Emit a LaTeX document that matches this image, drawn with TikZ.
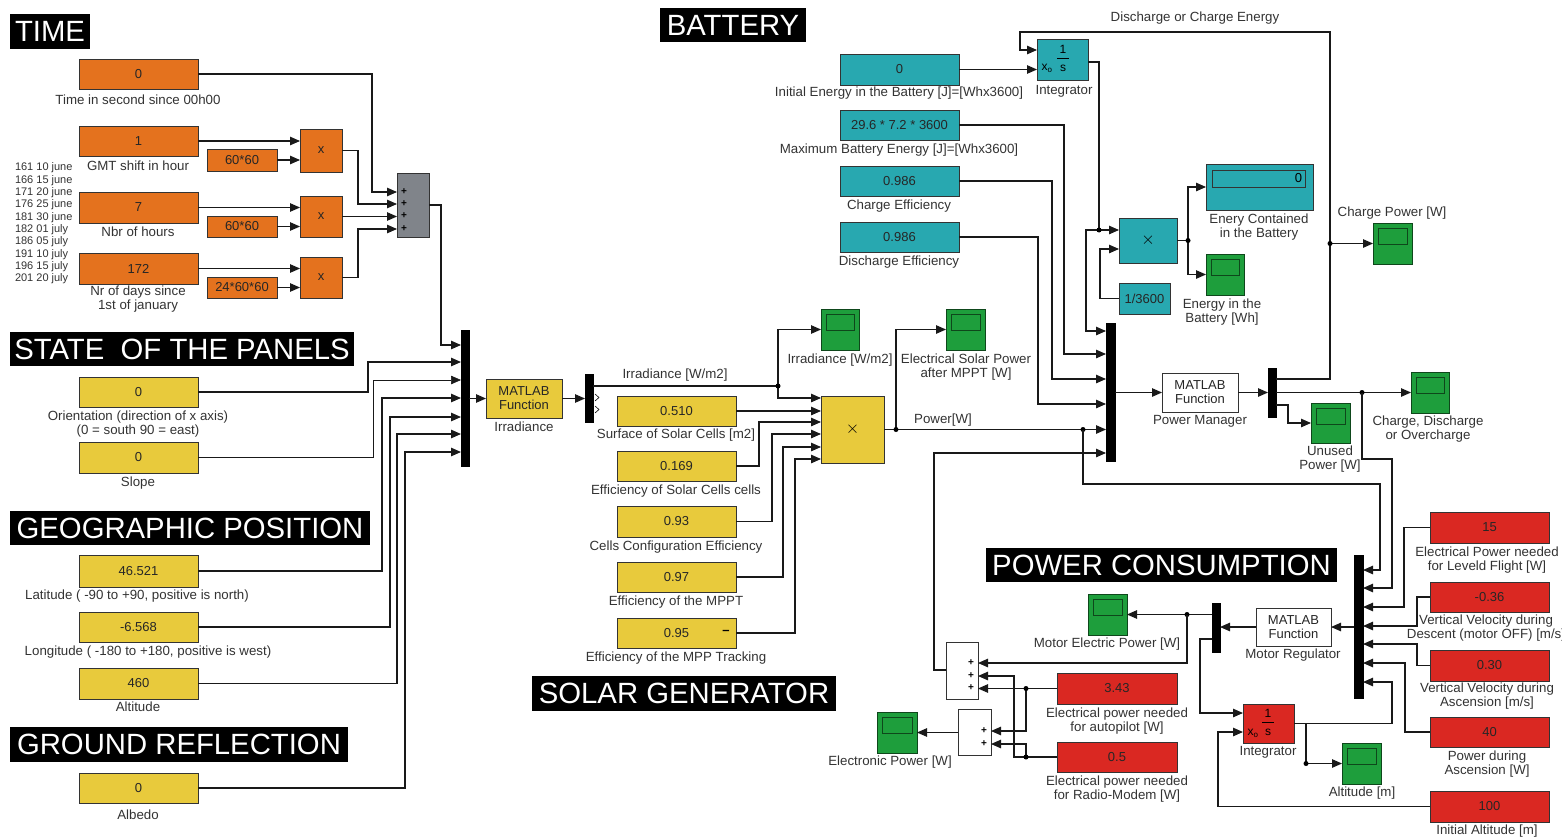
\documentclass[tikz,border=0pt]{standalone}
\usepackage{fontspec}
\setmainfont{Liberation Sans}
\usetikzlibrary{arrows.meta,calc}
\definecolor{cOr}{RGB}{228,114,30}
\definecolor{cYe}{RGB}{232,202,60}
\definecolor{cTe}{RGB}{40,168,176}
\definecolor{cRe}{RGB}{218,40,34}
\definecolor{cGr}{RGB}{30,158,60}
\definecolor{cGy}{RGB}{128,132,138}
\newcommand\blk[7]{\node[#6, minimum width={(#4-#2)*1pt}, minimum height={(#5-#3)*1pt}] (#1) at ({(#2+#4)/2},{(#3+#5)/2}) {#7};}
\newcommand\scp[5]{\blk{#1}{#2}{#3}{#4}{#5}{scb}{}\draw[draw=black!55!cGr, line width=1pt, fill=cGr] ($(#1.north west)+(5,5)$) rectangle ($(#1.north east)+(-5,21)$);}
\begin{document}
\begin{tikzpicture}[x=1pt,y=-1pt,
  every node/.style={inner sep=0pt, outer sep=0pt},
  bk/.style={draw=black!80, line width=1pt, font=\fontsize{13}{14}\selectfont, text=black!85, align=center},
  orb/.style={bk, fill=cOr},
  yeb/.style={bk, fill=cYe},
  teb/.style={bk, fill=cTe},
  reb/.style={bk, fill=cRe},
  whb/.style={bk, fill=white},
  gyb/.style={bk, fill=cGy},
  scb/.style={bk, fill=cGr, draw=black!55!cGr},
  barb/.style={fill=black, draw=black},
  hdr/.style={fill=black, text=white, font=\fontsize{29.3}{30}\selectfont},
  lbl/.style={font=\fontsize{13.3}{14}\selectfont, text=black!80, align=center},
  pls/.style={font=\fontsize{10}{10}\selectfont\bfseries, text=black},
  mul/.style={font=\fontsize{18}{18}\selectfont},
  wire/.style={draw=black!90, line width=1.1pt},
  sig/.style={wire, -{Triangle[length=10pt,width=8.5pt]}},
  jd/.style={fill=black}
]
\useasboundingbox[fill=white] (0,0) rectangle (1562,838);

% ---------------- headers
\blk{hTime}{10}{14}{90}{49}{hdr}{TIME}
\blk{hState}{10}{332}{354}{366}{hdr}{STATE\ \ OF THE PANELS}
\blk{hGeo}{10}{511}{370}{545}{hdr}{GEOGRAPHIC POSITION}
\blk{hGround}{10}{727}{348}{762}{hdr}{GROUND REFLECTION}
\blk{hBat}{660}{8}{806}{42}{hdr}{BATTERY}
\blk{hSolar}{532}{676}{836}{711}{hdr}{SOLAR GENERATOR}
\blk{hPow}{986}{548}{1337}{582}{hdr}{POWER CONSUMPTION}

% ---------------- TIME
\blk{cT0}{79}{59}{198}{89}{orb}{0}
\node[lbl] (lT0) at (138,100) {Time in second since 00h00};
\blk{cGmt}{79}{126}{198}{156}{orb}{1}
\node[lbl] (lGmt) at (138,166) {GMT shift in hour};
\blk{kA}{207}{149}{277}{171}{orb}{60*60}
\blk{pA}{300}{129}{342}{172}{orb}{x}
\blk{cH}{79}{192}{198}{223}{orb}{7}
\node[lbl] (lH) at (138,232) {Nbr of hours};
\blk{kB}{207}{216}{277}{237}{orb}{60*60}
\blk{pB}{300}{196}{342}{237}{orb}{x}
\blk{cD}{79}{253}{198}{284}{orb}{172}
\node[lbl] (lD) at (138,299.5) {Nr of days since\\1st of january};
\blk{kC}{207}{277}{277}{298}{orb}{24*60*60}
\blk{pC}{300}{257}{342}{298}{orb}{x}
\blk{sumT}{397}{173}{429}{237}{gyb}{}
\foreach \yy [count=\i] in {192,204,216,229} \node[pls] (pT\i) at (404,\yy) {+};
\foreach \t [count=\i from 0] in {161 10 june,166 15 june,171 20 june,176 25 june,181 30 june,182 01 july,186 05 july,191 10 july,196 15 july,201 20 july}
  \node[anchor=west, font=\fontsize{11}{12}\selectfont, text=black!80] (dl\i) at (15,{168+12.33*\i}) {\t};

\draw[sig] (cT0.east) -| (372,192) -- (sumT.west |- 0,192);
\draw[sig] (cGmt.east) -- (pA.west |- cGmt.east);
\draw[sig] (kA.east) -- (pA.west |- kA.east);
\draw[sig] (cH.east) -- (pB.west |- cH.east);
\draw[sig] (kB.east) -- (pB.west |- kB.east);
\draw[sig] (cD.east) -- (pC.west |- cD.east);
\draw[sig] (kC.east) -- (pC.west |- kC.east);
\draw[sig] (pA.east) -| (358,204) -- (sumT.west |- 0,204);
\draw[sig] (pB.east) -- (sumT.west |- pB.east);
\draw[sig] (pC.east) -| (358,229) -- (sumT.west |- 0,229);

% ---------------- STATE / GEO / GROUND
\blk{cOr}{79}{377}{198}{407}{yeb}{0}
\node[lbl] (lOr) at (138,424) {Orientation (direction of x axis)\\(0 = south 90 = east)};
\blk{cSl}{79}{442}{198}{473}{yeb}{0}
\node[lbl] (lSl) at (138,483) {Slope};
\blk{cLat}{79}{555}{198}{587}{yeb}{46.521}
\node[lbl] (lLat) at (137,596) {Latitude ( -90 to +90, positive is north)};
\blk{cLon}{79}{612}{198}{642}{yeb}{-6.568}
\node[lbl] (lLon) at (148,652) {Longitude ( -180 to +180, positive is west)};
\blk{cAlt}{79}{668}{198}{699}{yeb}{460}
\node[lbl] (lAlt) at (138,707) {Altitude};
\blk{cAlb}{79}{773}{198}{803}{yeb}{0}
\node[lbl] (lAlb) at (138,815) {Albedo};

\blk{muxA}{461}{330}{469}{466}{barb}{}
\draw[sig] (sumT.east) -| (441,345) -- (muxA.west |- 0,345);
\draw[sig] (cOr.east) -| (368,362) -- (muxA.west |- 0,362);
\draw[sig, line width=0.6pt] (cSl.east) -| (373,380) -- (muxA.west |- 0,380);
\draw[sig] (cLat.east) -| (382,398) -- (muxA.west |- 0,398);
\draw[sig] (cLon.east) -| (390,417) -- (muxA.west |- 0,417);
\draw[sig] (cAlt.east) -| (397,434) -- (muxA.west |- 0,434);
\draw[sig] (cAlb.east) -| (405,452) -- (muxA.west |- 0,452);

% ---------------- SOLAR GENERATOR
\blk{fIrr}{486}{379}{562}{418}{yeb}{MATLAB\\Function}
\node[lbl] (lfIrr) at (524,427) {Irradiance};
\draw[sig] (muxA.east |- fIrr.west) -- (fIrr.west);
\blk{dmxA}{585}{374}{593}{422}{barb}{}
\draw[sig] (fIrr.east) -- (dmxA.west |- fIrr.east);
\draw[line width=0.6pt] (595,394) -- (599,397.5) -- (595,401);
\draw[line width=0.6pt] (595,406) -- (599,409.5) -- (595,413);
\coordinate (jA) at (778,386);
\scp{sIrr}{821}{309}{859}{350}
\node[lbl] (lsIrr) at (840,360) {Irradiance [W/m2]};
\node[lbl] (lIrrW) at (675,375) {Irradiance [W/m2]};
\blk{prod}{821}{396}{884}{463}{yeb}{}
\node[mul] (xProd) at (prod.center) {$\times$};
\draw[wire] (dmxA.east |- jA) -- (jA);
\draw[sig] (jA) |- (sIrr.west);
\draw[sig] (jA) |- (prod.west |- 0,398);
\fill[jd] (jA) circle (2.5);

\blk{cSur}{617}{396}{736}{426}{yeb}{0.510}
\node[lbl] (lSur) at (676,435) {Surface of Solar Cells [m2]};
\blk{cEff}{617}{451}{736}{481}{yeb}{0.169}
\node[lbl] (lEff) at (676,491) {Efficiency of Solar Cells cells};
\blk{cCfg}{617}{506}{736}{537}{yeb}{0.93}
\node[lbl] (lCfg) at (676,547) {Cells Configuration Efficiency};
\blk{cMppt}{617}{562}{736}{592}{yeb}{0.97}
\node[lbl] (lMppt) at (676,602) {Efficiency of the MPPT};
\blk{cTrk}{617}{618}{736}{648}{yeb}{0.95}
\node[font=\fontsize{13}{14}\selectfont\bfseries] (mTrk) at (726,632) {--};
\node[lbl] (lTrk) at (676,658) {Efficiency of the MPP Tracking};
\draw[sig] (cSur.east) -- (prod.west |- cSur.east);
\draw[sig] (cEff.east) -| (759,422) -- (prod.west |- 0,422);
\draw[sig] (cCfg.east) -| (772,434) -- (prod.west |- 0,434);
\draw[sig] (cMppt.east) -| (783,447) -- (prod.west |- 0,447);
\draw[sig] (cTrk.east) -| (795,459) -- (prod.west |- 0,459);

\scp{sSol}{946}{309}{985}{350}
\node[lbl] (lsSol) at (966,367) {Electrical Solar Power\\after MPPT [W]};
\node[lbl] (lPow) at (943,420) {Power[W]};
\coordinate (jB) at (896,429.5);
\coordinate (jC) at (1083,429.5);

% ---------------- BATTERY
\blk{cE0}{840}{54}{959}{85}{teb}{0}
\node[lbl] (lE0) at (899,93) {Initial Energy in the Battery [J]=[Whx3600]};
\blk{cEmax}{840}{110}{959}{140}{teb}{29.6 * 7.2 * 3600}
\node[lbl] (lEmax) at (899,150) {Maximum Battery Energy [J]=[Whx3600]};
\blk{cCeff}{840}{166}{959}{196}{teb}{0.986}
\node[lbl] (lCeff) at (899,206) {Charge Efficiency};
\blk{cDeff}{840}{222}{959}{252}{teb}{0.986}
\node[lbl] (lDeff) at (899,262) {Discharge Efficiency};
\blk{intA}{1037}{39}{1088}{80}{teb}{}
\node[font=\fontsize{12}{12}\selectfont] (iA1) at (1063,49) {1};
\node[font=\fontsize{12}{12}\selectfont] (iAs) at (1063,68) {s};
\draw[line width=0.8pt] (1057,58) -- (1069,58);
\node[font=\fontsize{12}{12}\selectfont] (iAx) at (1047,68) {x\textsubscript{o}};
\node[lbl] (lIntA) at (1064,91) {Integrator};
\node[lbl] (lDce) at (1195,18) {Discharge or Charge Energy};
\blk{bprod}{1119}{218}{1177}{263}{teb}{}
\node[mul] (xBprod) at (bprod.center) {$\times$};
\blk{cInv}{1119}{283}{1170}{314}{teb}{1/3600}
\blk{disp}{1206}{164}{1313}{210}{teb}{}
\draw[draw=black!80, line width=1pt] (1212,170) rectangle (1305,187);
\node[font=\fontsize{13}{14}\selectfont, anchor=east] (dispV) at (1302,178.5) {0};
\node[lbl] (lDisp) at (1259,227) {Enery Contained\\in the Battery};
\scp{sEn}{1206}{254}{1244}{295}
\node[lbl] (lsEn) at (1222,312) {Energy in the\\Battery [Wh]};
\scp{sCh}{1373}{223}{1412}{264}
\node[lbl] (lsCh) at (1392,213) {Charge Power [W]};

\blk{muxB}{1106}{323}{1115}{461}{barb}{}
\blk{pm}{1162}{373}{1238}{412}{whb}{MATLAB\\Function}
\node[lbl] (lPm) at (1200,421) {Power Manager};
\blk{dmxB}{1268}{368}{1276}{417}{barb}{}
\scp{sUn}{1311}{403}{1350}{443}
\node[lbl] (lsUn) at (1330,459.5) {Unused\\Power [W]};
\scp{sCD}{1411}{372}{1449}{413}
\node[lbl] (lsCD) at (1428,429) {Charge, Discharge\\or Overcharge};

\draw[wire] (prod.east) -- (jB);
\draw[sig] (jB) |- (sSol.west);
\draw[sig] (jB) -- (muxB.west |- jB);
\fill[jd] (jB) circle (2.5);
\fill[jd] (jC) circle (2.5);

\draw[sig] (cE0.east) -- (intA.west |- cE0.east);
\coordinate (jD) at (1099,230);
\draw[wire] (intA.east |- 0,62) -| (jD);
\draw[sig] (jD) -- (bprod.west |- jD);
\draw[sig] (jD) -- (1086,230) -- (1086,331) -- (muxB.west |- 0,331);
\fill[jd] (jD) circle (2.5);
\draw[sig] (cInv.west) -| (1100,249) -- (bprod.west |- 0,249);
\coordinate (jE) at (1188,240.5);
\draw[wire] (bprod.east) -- (jE);
\draw[sig] (jE) |- (disp.west);
\draw[sig] (jE) |- (sEn.west);
\fill[jd] (jE) circle (2.5);
\draw[sig] (cEmax.east) -| (1064,354) -- (muxB.west |- 0,354);
\draw[sig] (cCeff.east) -| (1052,379) -- (muxB.west |- 0,379);
\draw[sig] (cDeff.east) -| (1038,404) -- (muxB.west |- 0,404);
\draw[sig] (muxB.east |- pm.west) -- (pm.west);
\draw[sig] (pm.east) -- (dmxB.west |- pm.east);
\draw[sig] (dmxB.east |- 0,379) -- (1330,379) -- (1330,32) -- (1020,32) -- (1020,50) -- (intA.west |- 0,50);
\coordinate (jF) at (1330,243.5);
\draw[sig] (jF) -- (sCh.west);
\fill[jd] (jF) circle (2.5);
\coordinate (jG) at (1362,392.5);
\draw[sig] (dmxB.east |- jG) -- (sCD.west |- jG);
\fill[jd] (jG) circle (2.5);
\draw[sig] (dmxB.east |- 0,405) -| (1288,423) -- (sUn.west |- 0,423);

% ---------------- POWER CONSUMPTION
\blk{muxC}{1354}{555}{1363}{698}{barb}{}
\blk{c15}{1430}{512}{1549}{543}{reb}{15}
\node[lbl] (lc15) at (1487,560) {Electrical Power needed\\for Leveld Flight [W]};
\blk{c036}{1430}{582}{1549}{612}{reb}{-0.36}
\node[lbl] (lc036) at (1486,628) {Vertical Velocity during\\Descent (motor OFF) [m/s]};
\blk{c030}{1430}{650}{1549}{681}{reb}{0.30}
\node[lbl] (lc030) at (1487,696) {Vertical Velocity during\\Ascension [m/s]};
\blk{c40}{1430}{717}{1549}{747}{reb}{40}
\node[lbl] (lc40) at (1487,764.5) {Power during\\Ascension [W]};
\blk{c100}{1430}{791}{1549}{822}{reb}{100}
\node[lbl] (lc100) at (1487,831) {Initial Altitude [m]};
\blk{mreg}{1256}{608}{1331}{646}{whb}{MATLAB\\Function}
\node[lbl] (lMreg) at (1293,655) {Motor Regulator};
\blk{dmxC}{1212}{603}{1220}{652}{barb}{}
\blk{intB}{1243}{704}{1294}{743}{reb}{}
\node[font=\fontsize{12}{12}\selectfont] (iB1) at (1268,713) {1};
\node[font=\fontsize{12}{12}\selectfont] (iBs) at (1268,732) {s};
\draw[line width=0.8pt] (1262,722) -- (1274,722);
\node[font=\fontsize{12}{12}\selectfont] (iBx) at (1253,733) {x\textsubscript{o}};
\node[lbl] (lIntB) at (1268,752) {Integrator};
\scp{sAlt}{1342}{743}{1381}{784}
\node[lbl] (lsAlt) at (1362,793) {Altitude [m]};
\scp{sMot}{1088}{594}{1127}{635}
\node[lbl] (lsMot) at (1107,644) {Motor Electric Power [W]};
\blk{sumA}{946}{642}{978}{699}{whb}{}
\foreach \yy [count=\i] in {663,676,688} \node[pls] (pA\i) at (971,\yy) {+};
\blk{sumB}{958}{709}{991}{755}{whb}{}
\foreach \yy [count=\i] in {731,744} \node[pls] (pB\i) at (984,\yy) {+};
\blk{c343}{1057}{673}{1177}{704}{reb}{3.43}
\node[lbl] (lc343) at (1117,721) {Electrical power needed\\for autopilot [W]};
\blk{c05}{1057}{742}{1177}{772}{reb}{0.5}
\node[lbl] (lc05) at (1117,789.5) {Electrical power needed\\for Radio-Modem [W]};
\scp{sEl}{877}{712}{917}{753}
\node[lbl] (lsEl) at (890,762) {Electronic Power [W]};

\draw[sig] (jC) |- (1380,484) -- (1380,570) -- (muxC.east |- 0,570);
\draw[sig] (jG) -- (1362,459) -- (1392,459) -- (1392,588) -- (muxC.east |- 0,588);
\draw[sig] (c15.west) -| (1404,607) -- (muxC.east |- 0,607);
\draw[sig] (c036.west) -| (1417,626) -- (muxC.east |- 0,626);
\draw[sig] (c030.west) -| (1417,644) -- (muxC.east |- 0,644);
\draw[sig] (c40.west) -| (1405,663) -- (muxC.east |- 0,663);
\draw[sig] (intB.east) -| (1392,682) -- (muxC.east |- 0,682);
\coordinate (jH) at (1306,723.5);
\coordinate (jI) at (1306,763.5);
\draw[sig] (jH) -- (jI) -- (sAlt.west);
\fill[jd] (jI) circle (2.5);
\draw[sig] (c100.west) -| (1218,732) -- (intB.west |- 0,732);
\draw[sig] (muxC.west |- mreg.east) -- (mreg.east);
\draw[sig] (mreg.west) -- (dmxC.east |- mreg.west);
\coordinate (jJ) at (1187,614.5);
\draw[sig] (dmxC.west |- jJ) -- (sMot.east);
\fill[jd] (jJ) circle (2.5);
\draw[sig] (jJ) -- (1187,663) -- (sumA.east |- 0,663);
\draw[sig] (dmxC.west |- 0,639) -| (1200,713) -- (intB.west |- 0,713);
\draw[sig] (sumA.west |- 0,670) -| (934,453) -- (muxB.west |- 0,453);
\coordinate (jK) at (1026,688.5);
\draw[sig] (c343.west) -- (sumA.east |- c343.west);
\draw[sig] (jK) -- (1026,731) -- (sumB.east |- 0,731);
\fill[jd] (jK) circle (2.5);
\coordinate (jL) at (1026,757);
\draw[sig] (c05.west) -- (jL) -- (1026,744) -- (sumB.east |- 0,744);
\draw[sig] (jL) -- (1014,757) -- (1014,676) -- (sumA.east |- 0,676);
\fill[jd] (jL) circle (2.5);
\draw[sig] (sumB.west |- 0,732.5) -- (sEl.east);
\end{tikzpicture}
\end{document}
